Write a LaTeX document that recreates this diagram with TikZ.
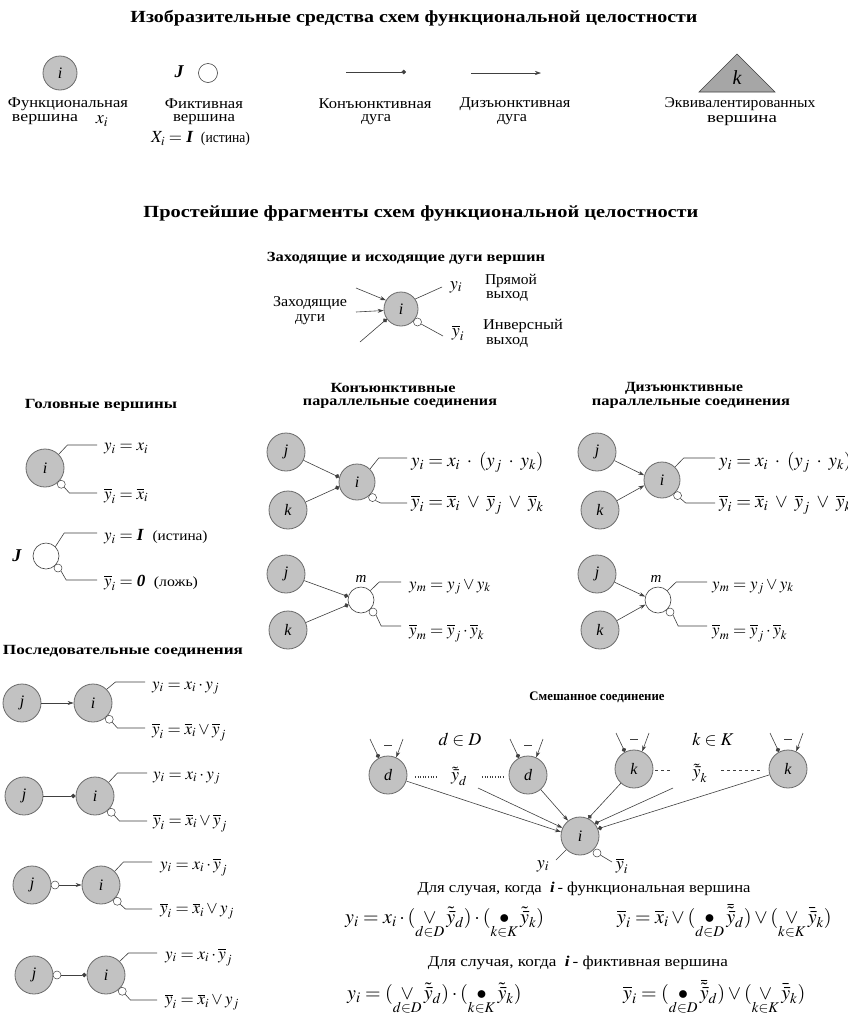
\documentclass[tikz,border=0pt]{standalone}
\usepackage{mathptmx}
\usepackage{fontspec}
\setmainfont{Liberation Serif}
\usepackage{graphicx}
\usetikzlibrary{arrows.meta,calc}

% stretch a text horizontally to a given width, keeping its height
\newcommand\fitto[2]{\resizebox{#1}{\height}{#2}}

% direct and inverse outputs of a vertex:
% #1 node, #2 cx, #3 cy, #4 radius, #5 upper line y, #6 lower line y, #7 line end x
\newcommand\twoout[7]{%
  \node[inv] (#1inv) at ({#2+(#4+4)*0.707},{#3+(#4+4)*0.707}) {};
  \coordinate (#1ta) at ({#2+#4*0.707+9},#5);
  \coordinate (#1te) at (#7,#5);
  \coordinate (#1ba) at ({#2+#4*0.707+11},#6);
  \coordinate (#1be) at (#7,#6);
  \draw[wire] (#1.45) -- (#1ta) -- (#1te);
  \draw[wire] (#1inv.-45) -- (#1ba) -- (#1be);
}

% two incoming arcs on top of a vertex of the mixed connection
\newcommand\topin[3]{%
  \coordinate (#1pa) at ({#2-18},{#3-36});
  \coordinate (#1pb) at ({#2+15},{#3-36});
  \draw[conj] (#1pa) -- (#1.118);
  \draw[disj] (#1pb) -- (#1.65);
  \draw[wire] ({#2-4},{#3-30}) -- ({#2+4},{#3-30});
}

\begin{document}
\begin{tikzpicture}[x=1pt,y=-1pt,
  fv/.style={circle,draw=black!58,fill=black!24,line width=0.8pt,minimum size=38pt,inner sep=0pt,font=\fontsize{16}{16}\selectfont\itshape},
  fict/.style={circle,draw=black!75,fill=white,line width=0.6pt,inner sep=0pt},
  inv/.style={circle,draw=black!75,fill=white,line width=0.5pt,minimum size=8pt,inner sep=0pt},
  wire/.style={draw=black!75,line width=0.6pt},
  conj/.style={wire,-{Circle[length=4.5pt]}},
  disj/.style={wire,-{Stealth[length=6pt,width=4pt]}},
  lbl/.style={font=\fontsize{15}{16}\selectfont,inner sep=0pt},
  hdr/.style={font=\fontsize{14}{15}\selectfont\bfseries,inner sep=0pt},
  ttl/.style={font=\fontsize{17}{18}\selectfont\bfseries,inner sep=0pt},
  fml/.style={font=\fontsize{17}{18}\selectfont,inner sep=0pt,anchor=west},
  wfml/.style={font=\fontsize{19}{20}\selectfont,inner sep=0pt,anchor=west},
  bigm/.style={font=\fontsize{18}{18}\selectfont,inner sep=0pt},
  mfml/.style={font=\fontsize{20}{21}\selectfont,inner sep=0pt,anchor=base west},
]
\useasboundingbox (0,0) rectangle (847,1021);
\fill[white] (0,0) rectangle (847,1021);

% ---------- titles ----------
\node[ttl] (title1) at (414,18) {\fitto{567pt}{Изобразительные средства схем функциональной целостности}};
\node[ttl] (title2) at (421,213) {\fitto{555pt}{Простейшие фрагменты схем функциональной целостности}};

% ---------- legend ----------
\node[fv,minimum size=34pt] (lfi) at (60,73) {i};
\node[lbl] (lfl1) at (68,104) {\fitto{120pt}{Функциональная}};
\node[lbl] (lfl2) at (45,120) {\fitto{66pt}{вершина}};
\node[bigm] (lfx) at (102,121) {$x_i$};

\node[font=\fontsize{18}{18}\selectfont\bfseries\itshape] (lJ) at (179,72) {J};
\node[fict,minimum size=19pt] (lfc) at (208,73) {};
\node[lbl] (lcl1) at (204,104) {\fitto{78pt}{Фиктивная}};
\node[lbl] (lcl2) at (204,120) {\fitto{62pt}{вершина}};
\node[lbl,anchor=west] (lcx) at (151,139) {{\fontsize{17}{17}\selectfont$X_i =$ \textbf{\textit{I}}}\ \ \fitto{49pt}{(истина)}};

\coordinate (ca1) at (346,72);
\coordinate (ca2) at (406,72);
\draw[conj] (ca1) -- (ca2);
\node[lbl] (cal1) at (375,104) {\fitto{113pt}{Конъюнктивная}};
\node[lbl] (cal2) at (376,120) {\fitto{30pt}{дуга}};

\coordinate (da1) at (471,73);
\coordinate (da2) at (541,73);
\draw[disj] (da1) -- (da2);
\node[lbl] (dal1) at (515,104) {\fitto{111pt}{Дизъюнктивная}};
\node[lbl] (dal2) at (512,120) {\fitto{30pt}{дуга}};

\draw[wire,fill=black!35] (699,92) -- (737,54) -- (775,92) -- cycle;
\node[font=\fontsize{20}{20}\selectfont\itshape] (ltk) at (737,78) {k};
\node[lbl] (ltl1) at (740,104) {\fitto{151pt}{Эквивалентированных}};
\node[lbl] (ltl2) at (742,121) {\fitto{70pt}{вершина}};

% ---------- incoming and outgoing arcs ----------
\node[hdr] (fh) at (406,258) {\fitto{278pt}{Заходящие и исходящие дуги вершин}};
\node[fv,minimum size=34pt] (fi) at (401,309) {i};
\coordinate (fin1) at (356,288);
\coordinate (fin2) at (356,312);
\coordinate (fin3) at (360,342);
\draw[disj] (fin1) -- (fi.150);
\draw[disj] (fin2) -- (fi.185);
\draw[conj] (fin3) -- (fi.215);
\node[lbl] (fhl1) at (310,303) {\fitto{74pt}{Заходящие}};
\node[lbl] (fhl2) at (310,320) {\fitto{30pt}{дуги}};
\coordinate (fo1) at (442,287);
\draw[wire] (fi.35) -- (fo1);
\node[inv] (fiinv) at ($(fi.center)+(16.5,13)$) {};
\coordinate (fo2) at (443,336);
\draw[wire] (fiinv) -- (fo2);
\node[bigm] (fy1) at (456,287) {$y_i$};
\node[lbl] (fyl1) at (511,281) {\fitto{52pt}{Прямой}};
\node[lbl] (fyl2) at (507,296) {\fitto{42pt}{выход}};
\node[bigm] (fy2) at (458,333) {$\overline{y}_i$};
\node[lbl] (fyl3) at (523,326) {\fitto{80pt}{Инверсный}};
\node[lbl] (fyl4) at (507,342) {\fitto{42pt}{выход}};

% ---------- head vertices ----------
\node[hdr] (hh) at (101,405) {\fitto{152pt}{Головные вершины}};
\node[fv] (hi) at (45,468) {i};
\twoout{hi}{45}{468}{19}{445}{493}{97}
\node[fml] (hf1) at (104,449) {$y_i = x_i$};
\node[fml] (hf2) at (104,496) {$\overline{y}_i = \overline{x}_i$};
\node[font=\fontsize{18}{18}\selectfont\bfseries\itshape] (hJ) at (17,556) {J};
\node[fict,minimum size=26pt] (hj) at (46,556) {};
\twoout{hj}{46}{556}{13}{533}{580}{97}
\node[fml] (hf3) at (104,537) {$y_i =$ \textbf{\textit{I}}\ \ {\fontsize{14}{14}\selectfont\fitto{55pt}{(истина)}}};
\node[fml] (hf4) at (104,583) {$\overline{y}_i =$ \textbf{\textit{0}}\ \ {\fontsize{14}{14}\selectfont\fitto{44pt}{(ложь)}}};

% ---------- conjunctive parallel connections ----------
\node[hdr] (ch1) at (393,388) {\fitto{125pt}{Конъюнктивные}};
\node[hdr] (ch2) at (400,404) {\fitto{194pt}{параллельные соединения}};
\node[fv] (cj) at (286,452) {j};
\node[fv] (ck) at (288,510) {k};
\node[fv,minimum size=36pt] (ci) at (357,482) {i};
\draw[conj] (cj) -- (ci.165);
\draw[conj] (ck) -- (ci.195);
\twoout{ci}{357}{482}{18}{458}{503}{407}
\node[wfml] (cf1) at (411,462) {$y_i = x_i \;\cdot\; (y_j \;\cdot\; y_k)$};
\node[wfml] (cf2) at (411,505) {$\overline{y}_i = \overline{x}_i \;\vee\; \overline{y}_j \;\vee\; \overline{y}_k$};

\node[fv] (cj2) at (286,574) {j};
\node[fv] (ck2) at (288,630) {k};
\node[fict,minimum size=26pt] (cm) at (361,600) {};
\node[font=\fontsize{15}{15}\selectfont\itshape] (cml) at (361,579) {m};
\draw[conj] (cj2) -- (cm.165);
\draw[conj] (ck2) -- (cm.200);
\twoout{cm}{361}{600}{13}{582}{626}{401}
\node[fml] (cf3) at (409,587) {$y_m = y_j \vee y_k$};
\node[fml] (cf4) at (409,633) {$\overline{y}_m = \overline{y}_j \cdot \overline{y}_k$};

% ---------- disjunctive parallel connections ----------
\node[hdr] (dh1) at (684,388) {\fitto{118pt}{Дизъюнктивные}};
\node[hdr] (dh2) at (691,404) {\fitto{198pt}{параллельные соединения}};
\node[fv] (dj) at (597,452) {j};
\node[fv] (dk) at (600,510) {k};
\node[fv,minimum size=36pt] (di) at (662,480) {i};
\draw[disj] (dj) -- (di.165);
\draw[disj] (dk) -- (di.197);
\twoout{di}{662}{480}{18}{458}{503}{715}
\node[wfml] (df1) at (719,462) {$y_i = x_i \;\cdot\; (y_j \;\cdot\; y_k)$};
\node[wfml] (df2) at (719,505) {$\overline{y}_i = \overline{x}_i \;\vee\; \overline{y}_j \;\vee\; \overline{y}_k$};

\node[fv] (dj2) at (597,574) {j};
\node[fv] (dk2) at (600,630) {k};
\node[fict,minimum size=26pt] (dm) at (658,600) {};
\node[font=\fontsize{15}{15}\selectfont\itshape] (dml) at (656,579) {m};
\draw[disj] (dj2) -- (dm.165);
\draw[disj] (dk2) -- (dm.200);
\twoout{dm}{658}{600}{13}{582}{626}{707}
\node[fml] (df3) at (712,587) {$y_m = y_j \vee y_k$};
\node[fml] (df4) at (712,633) {$\overline{y}_m = \overline{y}_j \cdot \overline{y}_k$};

% ---------- sequential connections ----------
\node[hdr] (sh) at (123,651) {\fitto{240pt}{Последовательные соединения}};
\node[fv] (sj1) at (22,703) {j};
\node[fv] (si1) at (93,703) {i};
\draw[disj] (sj1) -- (si1);
\twoout{si1}{93}{703}{19}{682}{728}{145}
\node[fml] (sf1) at (152,688) {$y_i = x_i \cdot y_j$};
\node[fml] (sf2) at (152,732) {$\overline{y}_i = \overline{x}_i \vee \overline{y}_j$};

\node[fv] (sj2) at (24,796) {j};
\node[fv] (si2) at (95,796) {i};
\draw[conj] (sj2) -- (si2);
\twoout{si2}{95}{796}{19}{773}{821}{147}
\node[fml] (sf3) at (153,778) {$y_i = x_i \cdot y_j$};
\node[fml] (sf4) at (153,823) {$\overline{y}_i = \overline{x}_i \vee \overline{y}_j$};

\node[fv] (sj3) at (32,885) {j};
\node[inv] (sj3inv) at (55,885) {};
\node[fv] (si3) at (101,885) {i};
\draw[disj] (sj3inv) -- (si3);
\twoout{si3}{101}{885}{19}{862}{909}{152}
\node[fml] (sf5) at (160,867) {$y_i = x_i \cdot \overline{y}_j$};
\node[fml] (sf6) at (160,911) {$\overline{y}_i = \overline{x}_i \vee y_j$};

\node[fv] (sj4) at (34,975) {j};
\node[inv] (sj4inv) at (57,975) {};
\node[fv] (si4) at (106,975) {i};
\draw[conj] (sj4inv) -- (si4);
\twoout{si4}{106}{975}{19}{953}{1000}{157}
\node[fml] (sf7) at (165,957) {$y_i = x_i \cdot \overline{y}_j$};
\node[fml] (sf8) at (165,1002) {$\overline{y}_i = \overline{x}_i \vee y_j$};

% ---------- mixed connection ----------
\node[hdr,font=\fontsize{13}{14}\selectfont\bfseries] (mh) at (597,697) {\fitto{135pt}{Смешанное соединение}};
\node[fv] (md1) at (388,775) {d};
\node[fv] (md2) at (528,775) {d};
\node[fv] (mk1) at (634,769) {k};
\node[fv] (mk2) at (788,769) {k};
\node[fv] (mi) at (580,836) {i};
\topin{md1}{388}{775}
\topin{md2}{528}{775}
\topin{mk1}{634}{769}
\topin{mk2}{788}{769}

\node[bigm] (mdD) at (460,740) {$d \in D$};
\node[bigm] (mkK) at (713,740) {$k \in K$};

\coordinate (mdo1) at (415,777);
\coordinate (mdo2) at (437,777);
\coordinate (mdo3) at (482,777);
\coordinate (mdo4) at (504,777);
\draw[wire,dotted,line width=1.3pt] (mdo1) -- (mdo2);
\draw[wire,dotted,line width=1.3pt] (mdo3) -- (mdo4);
\node[bigm] (myd) at (459,776) {$\tilde{\bar{y}}_d$};

\coordinate (mko1) at (655,770);
\coordinate (mko2) at (672,770);
\coordinate (mko3) at (721,770);
\coordinate (mko4) at (762,770);
\draw[wire,dashed] (mko1) -- (mko2);
\draw[wire,dashed] (mko3) -- (mko4);
\node[bigm] (myk) at (700,773) {$\tilde{\bar{y}}_k$};

\coordinate (mds) at (478,788);
\coordinate (mks) at (673,788);
\draw[disj] (md1) -- (mi.168);
\draw[disj] (mds) -- (mi.155);
\draw[disj] (md2) -- (mi.128);
\draw[conj] (mk1) -- (mi.65);
\draw[conj] (mks) -- (mi.40);
\draw[conj] (mk2) -- (mi.22);

\coordinate (moy) at (556,860);
\draw[wire] (mi.225) -- (moy);
\node[inv] (miinv) at (597,853) {};
\coordinate (moyb) at (612,862);
\draw[wire] (miinv) -- (moyb);
\node[bigm] (myl) at (543,866) {$y_i$};
\node[bigm] (mybl) at (622,866) {$\overline{y}_i$};

\node[lbl] (mt1) at (584,889) {\fitto{333pt}{Для случая, когда \ \textbf{\textit{i}}\,- функциональная вершина}};
\node[mfml] (mf1) at (345,923) {$y_i = x_i \cdot (\mathop{\vee}\limits_{d\in D}\tilde{\bar{y}}_d)\cdot(\mathop{\bullet}\limits_{k\in K}\tilde{\bar{y}}_k)$};
\node[mfml] (mf2) at (617,923) {$\overline{y}_i = \overline{x}_i \vee (\mathop{\bullet}\limits_{d\in D}\bar{\tilde{\bar{y}}}_d)\vee(\mathop{\vee}\limits_{k\in K}\bar{\bar{y}}_k)$};

\node[lbl] (mt2) at (578,963) {\fitto{300pt}{Для случая, когда \ \textbf{\textit{i}}\,- фиктивная вершина}};
\node[mfml] (mf3) at (347,999) {$y_i = (\mathop{\vee}\limits_{d\in D}\tilde{\bar{y}}_d)\cdot(\mathop{\bullet}\limits_{k\in K}\tilde{\bar{y}}_k)$};
\node[mfml] (mf4) at (623,999) {$\overline{y}_i = (\mathop{\bullet}\limits_{d\in D}\bar{\tilde{\bar{y}}}_d)\vee(\mathop{\vee}\limits_{k\in K}\bar{\bar{y}}_k)$};
\end{tikzpicture}
\end{document}
